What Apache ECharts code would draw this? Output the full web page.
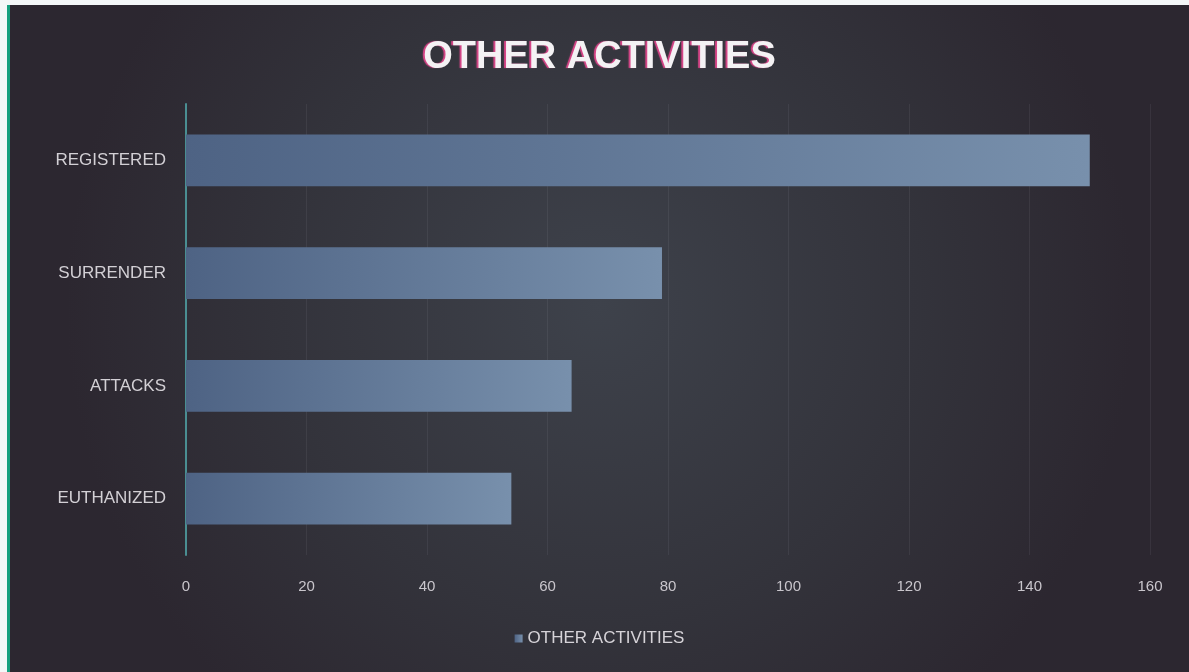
<!DOCTYPE html>
<html>
<head>
<meta charset="utf-8">
<script src="https://cdn.jsdelivr.net/npm/echarts@6/dist/echarts.min.js"></script>
<style>
  html, body { margin: 0; padding: 0; background: #f4f7f8; width: 1189px; height: 672px; overflow: hidden; }
  #c { position: absolute; left: 7px; top: 5px; width: 1182px; height: 667px; box-sizing: border-box; border-left: 3px solid #17a07f; }
</style>
</head>
<body>
<div id="c"></div>
<script>
const titleText = 'OTHER ACTIVITIES';
const seriesName = 'OTHER ACTIVITIES';
const categories = ['EUTHANIZED', 'ATTACKS', 'SURRENDER', 'REGISTERED'];
const values = [54, 64, 79, 150];
const xMin = 0, xMax = 160, xStep = 20;

const chart = echarts.init(document.getElementById('c'));
const labelFont = '"Liberation Sans", Arial, sans-serif';
chart.setOption({
  backgroundColor: {
    type: 'radial', x: 0.5, y: 0.45, r: 0.8,
    colorStops: [
      { offset: 0, color: '#3e424b' },
      { offset: 0.6, color: '#33333b' },
      { offset: 1, color: '#2c2730' }
    ]
  },
  title: {
    text: titleText,
    left: 'center',
    top: 29,
    textStyle: {
      fontFamily: labelFont,
      fontSize: 38,
      fontWeight: 'bold',
      color: '#f4f2f4',
      textShadowColor: 'rgba(225,70,140,0.95)',
      textShadowOffsetX: -2,
      textShadowOffsetY: 0,
      textShadowBlur: 1
    }
  },
  legend: {
    bottom: 20,
    left: 'center',
    data: [seriesName],
    icon: 'rect',
    itemWidth: 8,
    itemHeight: 8,
    itemGap: 6,
    textStyle: { color: '#d6d3d8', fontSize: 17, fontFamily: labelFont }
  },
  grid: { left: 176, right: 39, top: 99, bottom: 117, containLabel: false },
  xAxis: {
    type: 'value',
    min: xMin, max: xMax, interval: xStep,
    axisLine: { show: false },
    axisTick: { show: false },
    axisLabel: { color: '#c9c6cc', fontSize: 15, fontFamily: labelFont, margin: 24 },
    splitLine: { show: true, lineStyle: { color: 'rgba(200,205,215,0.08)', width: 1 } }
  },
  yAxis: {
    type: 'category',
    data: categories,
    axisLine: { show: true, lineStyle: { color: '#4a8e92', width: 2 } },
    axisTick: { show: false },
    axisLabel: { color: '#d3d0d5', fontSize: 17, fontFamily: labelFont, margin: 20 }
  },
  series: [{
    name: seriesName,
    type: 'bar',
    data: values,
    barCategoryGap: '54%',
    itemStyle: {
      color: {
        type: 'linear', x: 0, y: 0, x2: 1, y2: 0,
        colorStops: [
          { offset: 0, color: '#4e6384' },
          { offset: 1, color: '#7890ac' }
        ]
      }
    }
  }]
});
</script>
</body>
</html>
